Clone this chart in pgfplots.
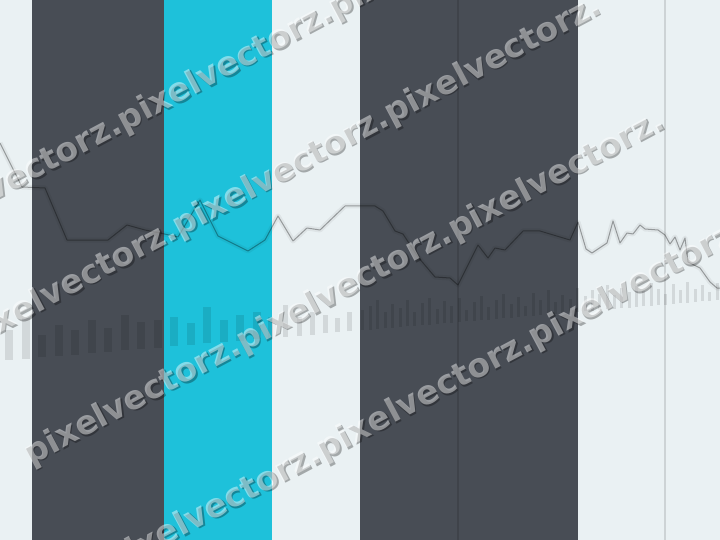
\documentclass[border=0pt]{standalone}
\usepackage{pgfplots}
\pgfplotsset{compat=1.18}
\usepackage{fontspec}
\setmainfont{DejaVu Sans}
\definecolor{bglight}{HTML}{EAF1F3}
\definecolor{darkband}{HTML}{484D55}
\definecolor{cyanband}{HTML}{1EC1DA}

% bars: x, bottom, top (pixel rows, y down)
\pgfplotstableread{
x   y
9 360.2
9 330
nan nan
25.5 358.8
25.5 318
nan nan
42 357.4
42 335
nan nan
58.5 356
58.5 325
nan nan
75 354.6
75 330
nan nan
91.5 353.2
91.5 320
nan nan
108 351.8
108 328
nan nan
124.5 350.4
124.5 315
nan nan
141 349
141 322
nan nan
157.5 347.6
157.5 320
nan nan
174 346.2
174 317
nan nan
190.5 344.8
190.5 323
nan nan
207 343.4
207 307
nan nan
223.5 342
223.5 320
nan nan
240 340.6
240 315
nan nan
256.5 339.2
256.5 312
}\barsA
\pgfplotstableread{
x y
270 338
270 317
nan nan
285 336.8
285 305
nan nan
299 335.6
299 317
nan nan
312 334.5
312 312
nan nan
325 333.4
325 315
nan nan
337 332.4
337 318
nan nan
349 331.3
349 312
}\barsB
\pgfplotstableread{
x y
362 330.2
362 310
nan nan
370 329.5
370 306
nan nan
377 329
377 300
nan nan
385 328.3
385 312
nan nan
392 327.7
392 304
nan nan
400 327
400 308
nan nan
407 326.4
407 300
nan nan
414 325.8
414 312
nan nan
422 325.1
422 303
nan nan
429 324.5
429 298
nan nan
437 323.9
437 309
nan nan
444 323.3
444 301
nan nan
451 322.7
451 306
nan nan
459 322
459 298
nan nan
466 321.4
466 310
nan nan
474 320.7
474 302
nan nan
481 320.1
481 296
nan nan
488 319.5
488 307
nan nan
496 318.8
496 300
nan nan
503 318.2
503 294
nan nan
511 317.6
511 304
nan nan
518 317
518 297
nan nan
525 316.4
525 306
nan nan
533 315.7
533 293
nan nan
540 315.1
540 300
nan nan
548 314.4
548 290
nan nan
555 313.8
555 302
nan nan
562 313.2
562 295
nan nan
570 312.6
570 299
nan nan
577 312
577 288
nan nan
585 311.3
585 296
nan nan
592 310.7
592 290
nan nan
599 310.1
599 294
nan nan
607 309.4
607 285
nan nan
614 308.8
614 295
nan nan
621 308.2
621 288
nan nan
629 307.5
629 292
nan nan
636 306.9
636 286
nan nan
643 306.3
643 291
nan nan
651 305.7
651 283
nan nan
658 305.1
658 289
nan nan
665 304.5
665 294
nan nan
673 303.8
673 284
nan nan
680 303.2
680 290
nan nan
687 302.6
687 282
nan nan
695 301.9
695 289
nan nan
702 301.3
702 285
nan nan
709 300.7
709 292
nan nan
717 300.1
717 283
}\barsC

\newcommand{\wmline}[3]{% start x, intercept, copies
  \pgfmathsetmacro{\sy}{540-(#2-0.5317*(#1))}
  \node[rotate=28, anchor=mid west, inner sep=0pt, text=black, opacity=0.3,
        font=\fontsize{33}{38}\selectfont\bfseries]
    at (#1pt+1.5pt, \sy pt-1.5pt) {\foreach \k in {1,...,#3}{pixelvectorz.}};
  \node[rotate=28, anchor=mid west, inner sep=0pt, text=white, opacity=0.45,
        font=\fontsize{33}{38}\selectfont\bfseries]
    at (#1pt, \sy pt) {\foreach \k in {1,...,#3}{pixelvectorz.}};
}

\begin{document}
\begin{tikzpicture}
\begin{scope}
\clip (0,0) rectangle (720pt,540pt);
\begin{axis}[
  at={(0,0)}, anchor=south west,
  scale only axis, width=720pt, height=540pt,
  xmin=0, xmax=720, ymin=0, ymax=540, y dir=reverse,
  hide axis, clip=true,
  axis background/.style={fill=bglight},
  unbounded coords=jump,
]
% background bands
\addplot[fill=darkband, draw=none] coordinates {(32,0) (164,0) (164,540) (32,540)} -- cycle;
\addplot[fill=cyanband, draw=none] coordinates {(164,0) (272,0) (272,540) (164,540)} -- cycle;
\addplot[fill=darkband, draw=none] coordinates {(360,0) (578,0) (578,540) (360,540)} -- cycle;
% thin vertical rules
\addplot[black, opacity=0.12, line width=1.2pt] coordinates {(458,0) (458,540)};
\addplot[black, opacity=0.12, line width=1.2pt] coordinates {(665,0) (665,540)};
% bars
\addplot[black, opacity=0.1, line width=8pt] table {\barsA};
\addplot[black, opacity=0.1, line width=5pt] table {\barsB};
\addplot[black, opacity=0.1, line width=3pt] table {\barsC};
% line
\pgfplotstableread{
x y
0 143
22 187
45 188
67 240
108 240
127 225
145 230
160 233
178 237
200 200
218 236
248 251
265 240
278 216
293 241
307 228
320 230
345 206
375 206
383 211
395 231
403 234
418 257
435 277
450 278
458 285
478 245
488 258
495 248
505 250
523 231
540 231
570 240
578 222
586 249
592 253
607 243
613 221
620 243
627 233
633 234
640 225
645 229
658 230
665 235
670 244
675 237
680 250
685 238
688 262
700 268
710 282
717 288
720 288
}\linedata
\addplot[black, opacity=0.05, line width=5pt, line join=round] table {\linedata};
\addplot[black, opacity=0.33, line width=1pt, line join=round] table {\linedata};
\end{axis}
% watermark
\wmline{-89}{195}{3}
\wmline{-245}{330}{4}
\wmline{30}{479}{3}
\wmline{-101}{630}{4}
\end{scope}
\pgfresetboundingbox
\path[use as bounding box] (0,0) rectangle (720pt,540pt);
\end{tikzpicture}
\end{document}
